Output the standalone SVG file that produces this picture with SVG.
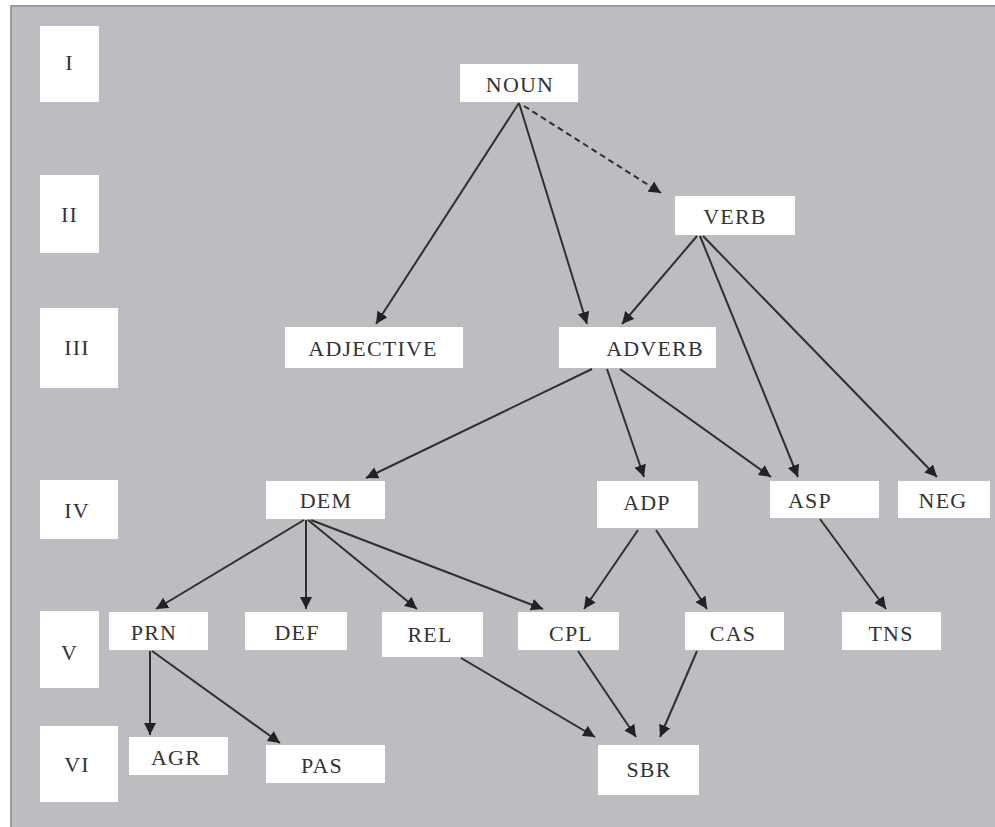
<svg xmlns="http://www.w3.org/2000/svg" width="995" height="827" viewBox="0 0 995 827">
<style>
.box{fill:#ffffff;}
.lbl{font-family:"Liberation Serif","DejaVu Serif",serif;font-size:22px;fill:#333333;text-anchor:middle;dominant-baseline:central;letter-spacing:1.2px;}
.e{stroke:#2f2f2f;stroke-width:2;fill:none;marker-end:url(#ah);}
.d{stroke-dasharray:6,4;}
</style>
<defs>
<marker id="ah" viewBox="0 0 10 10" refX="10" refY="5" markerWidth="6" markerHeight="6" orient="auto" markerUnits="strokeWidth">
<path d="M0,0 L10,5 L0,10 z" fill="#222"/>
</marker>
</defs>
<rect x="0" y="0" width="995" height="827" fill="#ffffff"/>
<rect x="10" y="5" width="985" height="822" fill="#bdbdc1"/>
<path d="M11,827 V6 H995" stroke="#9c9ca0" stroke-width="2" fill="none"/>

<g id="levels">
<g id="lvl-I"><rect class="box" x="40" y="26" width="59" height="76"/><text class="lbl" x="69.5" y="62">I</text></g>
<g id="lvl-II"><rect class="box" x="40" y="175" width="59" height="78"/><text class="lbl" x="69.5" y="214">II</text></g>
<g id="lvl-III"><rect class="box" x="40" y="308" width="78" height="80"/><text class="lbl" x="77" y="347">III</text></g>
<g id="lvl-IV"><rect class="box" x="40" y="480" width="78" height="59"/><text class="lbl" x="77" y="510">IV</text></g>
<g id="lvl-V"><rect class="box" x="40" y="611" width="59" height="77"/><text class="lbl" x="69.5" y="652">V</text></g>
<g id="lvl-VI"><rect class="box" x="40" y="726" width="78" height="76"/><text class="lbl" x="77" y="764">VI</text></g>
</g>

<g id="connectors">
<line class="e" x1="519" y1="103" x2="376" y2="324"/>
<line class="e" x1="519" y1="103" x2="587" y2="324"/>
<line class="e d" x1="524" y1="106" x2="661" y2="193"/>
<line class="e" x1="697" y1="236" x2="622" y2="324"/>
<line class="e" x1="700" y1="236" x2="798" y2="477"/>
<line class="e" x1="703" y1="236" x2="937" y2="477"/>
<line class="e" x1="592" y1="369" x2="366" y2="478"/>
<line class="e" x1="607" y1="369" x2="644" y2="477"/>
<line class="e" x1="620" y1="369" x2="771" y2="477"/>
<line class="e" x1="304" y1="520" x2="156" y2="609"/>
<line class="e" x1="306" y1="520" x2="306" y2="609"/>
<line class="e" x1="308" y1="520" x2="417" y2="609"/>
<line class="e" x1="311" y1="520" x2="543" y2="609"/>
<line class="e" x1="638" y1="530" x2="584" y2="609"/>
<line class="e" x1="656" y1="530" x2="707" y2="609"/>
<line class="e" x1="820" y1="519" x2="886" y2="609"/>
<line class="e" x1="150" y1="651" x2="150" y2="735"/>
<line class="e" x1="152" y1="651" x2="280" y2="743"/>
<line class="e" x1="461" y1="658" x2="595" y2="737"/>
<line class="e" x1="578" y1="651" x2="636" y2="737"/>
<line class="e" x1="697" y1="651" x2="660" y2="737"/>
</g>

<g id="n-noun"><rect class="box" x="460" y="64" width="118" height="38"/><text class="lbl" x="520" y="84">NOUN</text></g>
<g id="n-verb"><rect class="box" x="675" y="196" width="120" height="39"/><text class="lbl" x="735" y="216">VERB</text></g>
<g id="n-adjective"><rect class="box" x="285" y="327" width="178" height="41"/><text class="lbl" x="373" y="348">ADJECTIVE</text></g>
<g id="n-adverb"><rect class="box" x="559" y="327" width="157" height="41"/><text class="lbl" x="655" y="348">ADVERB</text></g>
<g id="n-dem"><rect class="box" x="266" y="481" width="119" height="38"/><text class="lbl" x="326" y="500">DEM</text></g>
<g id="n-adp"><rect class="box" x="597" y="481" width="101" height="47"/><text class="lbl" x="647" y="502">ADP</text></g>
<g id="n-asp"><rect class="box" x="770" y="481" width="109" height="37"/><text class="lbl" x="810" y="500">ASP</text></g>
<g id="n-neg"><rect class="box" x="898" y="481" width="92" height="37"/><text class="lbl" x="943" y="500">NEG</text></g>
<g id="n-prn"><rect class="box" x="109" y="612" width="99" height="38"/><text class="lbl" x="154" y="632">PRN</text></g>
<g id="n-def"><rect class="box" x="245" y="612" width="102" height="38"/><text class="lbl" x="297" y="632">DEF</text></g>
<g id="n-rel"><rect class="box" x="382" y="612" width="101" height="45"/><text class="lbl" x="430" y="634">REL</text></g>
<g id="n-cpl"><rect class="box" x="518" y="612" width="101" height="38"/><text class="lbl" x="571" y="633">CPL</text></g>
<g id="n-cas"><rect class="box" x="685" y="612" width="99" height="38"/><text class="lbl" x="733" y="633">CAS</text></g>
<g id="n-tns"><rect class="box" x="842" y="612" width="99" height="38"/><text class="lbl" x="891" y="633">TNS</text></g>
<g id="n-agr"><rect class="box" x="129" y="737" width="99" height="38"/><text class="lbl" x="176" y="757">AGR</text></g>
<g id="n-pas"><rect class="box" x="266" y="745" width="119" height="38"/><text class="lbl" x="322" y="765">PAS</text></g>
<g id="n-sbr"><rect class="box" x="598" y="745" width="101" height="50"/><text class="lbl" x="649" y="769">SBR</text></g>
</svg>
